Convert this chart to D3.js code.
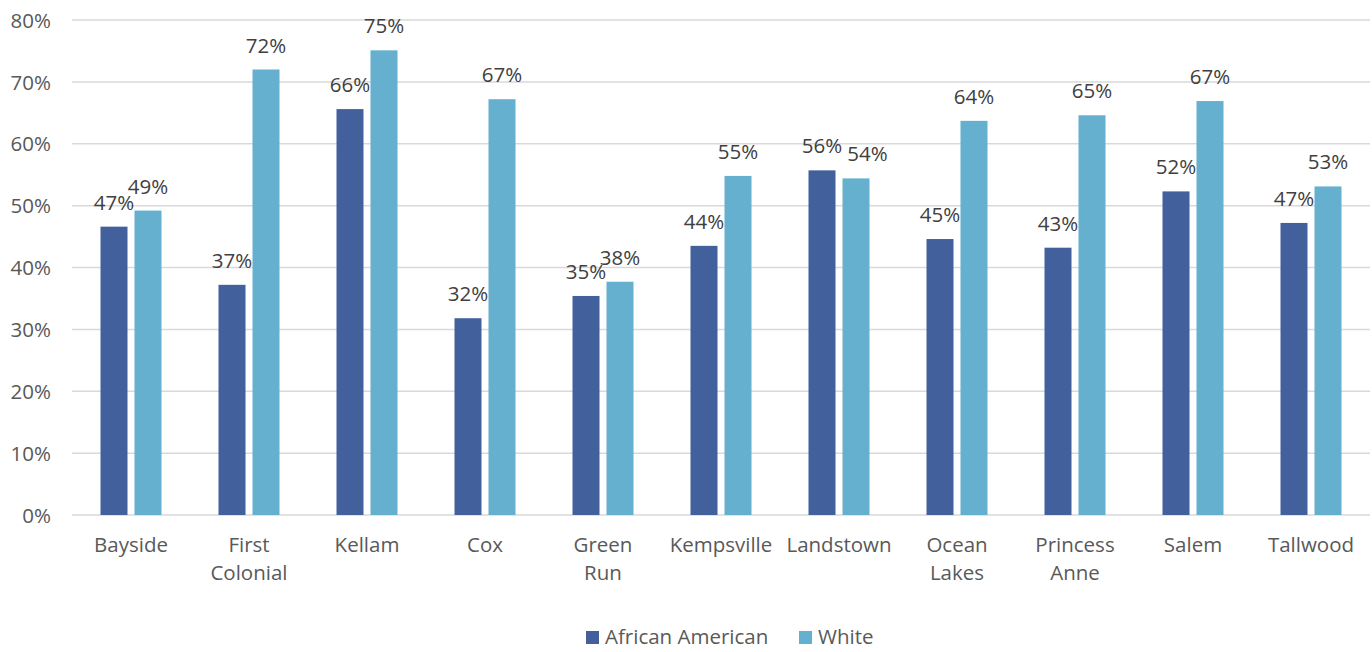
<!DOCTYPE html>
<html>
<head>
<meta charset="utf-8">
<script src="https://cdn.jsdelivr.net/npm/d3@7"></script>
<style>
  html, body { margin: 0; padding: 0; background: #fff; }
  svg { display: block; font-family: "Open Sans", Lato, sans-serif; }
</style>
</head>
<body>
<svg id="chart" width="1372" height="652"></svg>
<script>
// Schools along the x axis (line breaks split with "\n")
const schools = ["Bayside", "First\nColonial", "Kellam", "Cox", "Green\nRun", "Kempsville",
                 "Landstown", "Ocean\nLakes", "Princess\nAnne", "Salem", "Tallwood"];
const seriesNames = ["African American", "White"];
const africanAmerican = [0.466, 0.372, 0.656, 0.318, 0.354, 0.435, 0.557, 0.446, 0.432, 0.523, 0.472];
const white = [0.492, 0.720, 0.751, 0.672, 0.377, 0.548, 0.544, 0.637, 0.646, 0.669, 0.531];
const yTicks = [0, 0.1, 0.2, 0.3, 0.4, 0.5, 0.6, 0.7, 0.8];
const colors = ["#41609C", "#65B0CE"];

const FONT = "'Open Sans', Lato, sans-serif";
const FS = 20.5;

const svg = d3.select("#chart");
const margin = { left: 72, right: 2, top: 20, bottom: 137 };
const W = 1372, H = 652;

const x = d3.scaleBand().domain(d3.range(schools.length))
  .range([margin.left, W - margin.right]).paddingInner(0).paddingOuter(0);
const y = d3.scaleLinear().domain([0, 0.8]).range([H - margin.bottom, margin.top]);

// gridlines
svg.append("g").selectAll("line").data(yTicks).join("line")
  .attr("x1", margin.left).attr("x2", W - margin.right)
  .attr("y1", d => y(d)).attr("y2", d => y(d))
  .attr("stroke", "#d9d9d9").attr("stroke-width", 1.5);

// y axis labels
const yAxis = d3.axisLeft(y).tickValues(yTicks).tickFormat(d3.format(".0%")).tickSize(0).tickPadding(0);
const gy = svg.append("g").attr("transform", `translate(51,0)`).call(yAxis);
gy.select(".domain").remove();
gy.selectAll("text").attr("font-size", FS).attr("fill", "#595959")
  .attr("font-family", FONT).attr("dy", "0.35em");

// bars
const barW = 27, gap = 7;
const sub = d3.scaleOrdinal().domain([0, 1]).range([-(gap / 2 + barW), gap / 2]);
const data = [];
schools.forEach((s, i) => {
  data.push({ i, k: 0, v: africanAmerican[i] });
  data.push({ i, k: 1, v: white[i] });
});
const barX = d => x(d.i) + x.bandwidth() / 2 + sub(d.k);

svg.append("g").selectAll("rect").data(data).join("rect")
  .attr("x", barX).attr("width", barW)
  .attr("y", d => y(d.v)).attr("height", d => y(0) - y(d.v))
  .attr("fill", d => colors[d.k]);

// value labels
const labels = svg.append("g").selectAll("text").data(data).join("text")
  .attr("x", d => barX(d) + barW / 2)
  .attr("y", d => y(d.v) - 17)
  .attr("text-anchor", "middle")
  .attr("font-size", FS).attr("fill", "#404040")
  .text(d => d3.format(".0%")(d.v));

// nudge a White label rightwards when it sits at nearly the same height as its neighbour
labels.each(function(d) {
  if (d.k !== 1) return;
  const other = labels.filter(o => o.i === d.i && o.k === 0).node();
  const a = other.getBBox(), b = this.getBBox();
  const dy = Math.abs(y(d.v) - y(africanAmerican[d.i]));
  const overlap = a.x + a.width - b.x;
  if (dy < 12 && overlap > -5) {
    d3.select(this).attr("x", +d3.select(this).attr("x") + overlap + 5);
  }
});

// category labels
const cat = svg.append("g").selectAll("text").data(schools).join("text")
  .attr("x", (d, i) => x(i) + x.bandwidth() / 2)
  .attr("y", 552)
  .attr("text-anchor", "middle")
  .attr("font-size", FS).attr("fill", "#595959");
cat.each(function(d) {
  const t = d3.select(this);
  d.split("\n").forEach((line, j) => {
    t.append("tspan").attr("x", t.attr("x")).attr("dy", j === 0 ? 0 : 28).text(line);
  });
});

// legend
const legend = svg.append("g");
const legendItems = [{ name: seriesNames[0], x: 586 }, { name: seriesNames[1], x: 799 }];
legendItems.forEach((it, k) => {
  legend.append("rect").attr("x", it.x).attr("y", 631).attr("width", 13).attr("height", 13)
    .attr("fill", colors[k]);
  legend.append("text").attr("x", it.x + 19).attr("y", 644)
    .attr("font-size", FS).attr("fill", "#595959").text(it.name);
});
</script>
</body>
</html>
